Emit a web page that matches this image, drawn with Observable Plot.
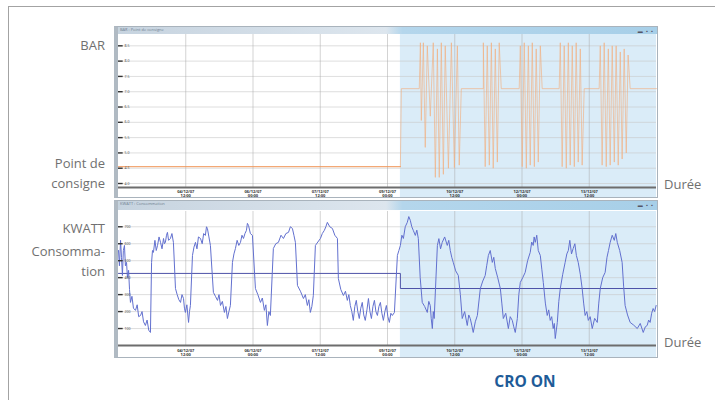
<!DOCTYPE html>
<html><head><meta charset="utf-8">
<script src="https://cdn.jsdelivr.net/npm/d3@7"></script>
<script src="https://cdn.jsdelivr.net/npm/@observablehq/plot@0.6"></script>
<style>
html,body{margin:0;padding:0;background:#fff;}
#wrap{position:relative;width:715px;height:400px;overflow:hidden;font-family:"Open Sans",sans-serif;}
.frame{position:absolute;left:8px;top:6px;width:720px;height:400px;border-top:1.5px solid #a3a3a3;border-left:1.5px solid #a3a3a3;}
.lbl{position:absolute;color:#707070;font-size:13px;line-height:20px;white-space:nowrap;}
.r{text-align:right;right:610px;}
.panel{position:absolute;left:114px;width:544px;}
.panel svg{position:absolute;left:0;top:0;}
.bar{position:absolute;left:0;top:0;width:544px;background:linear-gradient(to right,#c6d3df 0%,#dde6ee 50%,#b4d6ec 53%,#a7cfe8 100%);font-size:4px;color:#6f8090;line-height:8px;padding-left:6px;box-sizing:border-box;}
.btn{position:absolute;right:4px;top:1px;font-size:5px;color:#556;letter-spacing:1px;}
.border{position:absolute;left:0;top:0;box-sizing:border-box;border:1px solid #a9b3bc;border-left:4px solid #b0bac3;pointer-events:none;}
#cro{position:absolute;left:470px;width:110px;text-align:center;top:370px;font-size:15.5px;font-weight:bold;color:#1e5b98;}
</style></head>
<body><div id="wrap">
<div class="frame"></div>
<div class="lbl r" style="top:35px">BAR</div>
<div class="lbl r" style="top:153px">Point de<br>consigne</div>
<div class="lbl" style="left:664px;top:174px">Durée</div>
<div class="lbl r" style="top:218px">KWATT</div>
<div class="lbl r" style="top:241px">Consomma-<br>tion</div>
<div class="lbl" style="left:664px;top:332px">Durée</div>
<div id="cro">CRO ON</div>
<div class="panel" id="top" style="top:26px;height:172px"></div>
<div class="panel" id="bot" style="top:200px;height:158px"></div>
</div>
<script>
// ---- data ----
const croOn = 150.9;              // hours: CRO switched on
const endHour = 288;
const timeTicks = [36, 72, 108, 144, 180, 216, 252];
const timeLabels = ["04/12/07\n12:00", "06/12/07\n00:00", "07/12/07\n12:00", "09/12/07\n00:00", "10/12/07\n12:00", "12/12/07\n00:00", "13/12/07\n12:00"];
const barTicks = [4.0, 4.5, 5.0, 5.5, 6.0, 6.5, 7.0, 7.5, 8.0, 8.5];
const kwTicks = [100, 200, 300, 400, 500, 600, 700];
// point de consigne (BAR) avant CRO : [heure, bar]
const consigne = [[0,4.55],[150.9,4.55]];
// pression (BAR) après CRO : [heure, bar]
const pression = [
 [150.9,4.55],[151.4,7.1],[161,7.1],
 [161.6,8.6],[162.1,6.06],[163.2,8.6],[164.2,5.18],[165.3,8.5],[166.9,6.2],[168.5,8.6],[169.6,4.2],[170.7,8.4],[171.7,4.2],[172.8,8.6],[173.9,4.3],[174.9,8.5],[176.6,4.5],[178.2,8.6],[179.8,4.52],[181.4,8.5],[182.4,4.6],[183.5,7.1],
 [195.3,7.1],[195.3,8.6],[196.3,4.55],[197.4,8.5],[198.5,4.6],[199.6,8.6],[200.6,4.5],[201.7,8.4],[202.8,4.7],[203.8,8.6],[204.9,7.1],
 [214.5,7.1],[215.1,8.5],[216.1,4.55],[217.2,8.6],[218.3,4.5],[219.4,8.5],[220.4,4.6],[221.5,8.6],[222.6,4.55],[223.6,8.4],[224.7,4.7],[225.8,8.5],[226.8,7.1],
 [235.9,7.1],[236.5,8.6],[237.5,4.55],[238.6,8.5],[239.7,4.5],[240.8,8.6],[241.8,4.6],[242.9,8.5],[244,4.55],[245,8.6],[246.1,4.7],[247.2,8.4],[248.2,4.6],[249.3,7.1],
 [257.3,7.1],[257.9,8.5],[258.9,4.6],[260,8.6],[261.1,4.55],[262.2,8.4],[263.2,4.6],[264.3,8.5],[265.4,4.7],[266.4,8.5],[267.5,4.6],[268.6,8.3],[269.6,4.8],[270.7,8.4],[271.8,5.0],[272.8,8.2],[273.9,7.1],[288,7.1]
];
// consommation (KWATT) : [heure, kW]
const consommation = [
 [0,560],[0.5,470],[1.1,620],[1.6,520],[2.1,413],[2.6,560],[3.2,590],[3.7,470],[4.3,490],[4.8,400],[5.4,443],[5.9,330],[6.4,254],[7.2,290],[8,220],[9.1,207],[10,240],[10.8,170],[11.8,177],[12.6,200],[13.4,140],[14.4,118],[15.3,150],[16.2,90],[17.1,77],
 [17.7,490],[18.2,560],[18.7,549],[19.5,620],[20.2,560],[20.9,590],[21.7,640],[22.5,608],[23.3,570],[24.1,631],[24.6,600],[25.1,608],[25.7,650],[26.2,667],[26.8,620],[27.8,631],[28.6,660],[29.4,608],
 [30.5,336],[31.4,300],[32.3,270],[33.2,254],[34,300],[34.8,277],[35.3,220],[35.8,195],[36.6,240],[37.5,136],[38,200],[38.5,236],
 [39.6,531],[40.4,580],[41.2,608],[42,570],[42.8,640],[43.9,631],[44.8,600],[45.6,660],[46.5,649],[47.1,700],[47.6,690],[48.4,640],[49.2,590],
 [50.8,313],[51.9,290],[53,266],[53.8,300],[54.6,236],[55.6,260],[56.7,195],[57.5,230],[58.3,159],[59.1,200],[59.9,236],
 [61,490],[61.8,540],[62.6,572],[63.5,620],[64.4,590],[65.3,608],[66.1,650],[66.9,631],[67.7,660],[68.5,679],[69,720],[69.6,708],[70.6,660],[71.7,649],
 [73.3,336],[74.6,300],[76,254],[77,280],[78.1,207],[78.9,240],[79.7,118],[80.5,200],[81.3,177],
 [82.9,572],[84.2,600],[85.6,608],[87,650],[88.3,631],[89.6,660],[91,667],[92,700],[93.1,690],[93.9,650],[94.7,608],
 [95.8,354],[97.4,320],[99,277],[100,300],[101.1,236],[101.9,270],[102.7,195],[103.5,230],[104.3,295],
 [105.4,590],[106.7,610],[108.1,631],[109.1,660],[110.2,679],[111,700],[111.8,726],[113.1,700],[114.5,690],[115.8,650],[117.2,631],
 [117.7,395],[119,330],[120.4,295],[121.5,320],[122.5,266],[123.3,300],[124.1,236],[124.9,200],[125.7,148],[126.5,230],[127.3,266],[128.1,200],[128.9,159],[129.7,220],[130.5,254],[131.3,180],[132.1,148],[133,210],[133.8,277],[134.6,200],[135.4,159],[136.2,230],[137,266],[137.8,200],[138.6,177],[139.4,230],[140.2,254],[141,190],[141.8,148],[142.6,200],[143.4,236],[144.2,170],[145,136],[145.8,190],[146.6,177],[147.7,195],
 [149.3,531],[150.1,560],[150.9,590],[151.7,650],[152.5,631],[153.5,700],[154.6,726],[155.4,760],[156.2,738],[157,700],[157.8,679],[158.9,649],[159.7,680],[160.5,631],
 [161.5,400],[162.6,254],[163.9,230],[165.3,195],[166.1,260],[166.9,236],[167.4,160],[168,100],[168.5,200],[169,159],
 [170.7,590],[171.5,630],[172.4,570],[173.3,608],[174.6,640],[176,590],[176.8,620],[177.6,560],[178.4,520],[179.2,490],[180.5,440],[181.9,413],
 [183,300],[184,159],[185.3,200],[186.7,118],[187.5,180],[188.3,159],[189.1,120],[189.9,77],[191,140],[192.1,177],
 [193.7,336],[195,380],[196.3,413],[197.1,470],[198,531],[199,560],[200.1,490],[200.9,520],[201.7,454],[203,400],[204.4,336],
 [205.2,250],[206,159],[207.3,190],[208.7,100],[209.7,170],[210.8,148],[211.6,110],[212.4,77],[213.5,159],
 [214.3,300],[215.1,372],[216.4,400],[217.7,431],[219,500],[220.4,549],[221.2,610],[222,590],[222.5,640],[223.1,608],[223.9,650],[224.7,560],[225.8,531],[226.6,450],[227.4,372],
 [228.5,250],[229.5,177],[230.3,210],[231.1,148],[231.9,170],[232.7,100],[233.3,130],[233.8,41],[234.9,136],
 [235.7,260],[236.5,336],[237.8,420],[239.1,490],[240,540],[240.8,560],[241.6,620],[242.5,540],[243.4,572],[244.3,600],[245.1,531],[246.1,490],[247.2,420],[248.2,336],
 [249,250],[249.8,177],[250.7,200],[251.5,148],[252.5,170],[253.6,100],[254.9,160],[256.3,136],
 [257.1,250],[257.9,336],[259.2,400],[260.5,431],[261.5,520],[262.3,560],[263.2,608],[264.3,650],[265.4,620],[266.2,660],[267,608],[268.3,560],[269.6,490],
 [270.4,350],[271.2,236],[272.5,180],[273.9,136],[275.8,120],[277.7,100],[279.3,130],[280.9,77],[282,110],[283,118],[283.8,150],[284.6,136],[285.4,190],[286.2,218],[287,200],[287.8,236]
];
// moyenne de consommation avant / après CRO
const moyenne = [[0,425],[150.9,425],[150.9,336],[288,336]];

// ---- charts ----
const shade = [{start: croOn, end: endHour}];
function chrome(el, w, h, title) {
  const bar = document.createElement("div");
  bar.className = "bar"; bar.style.height = (title.h) + "px"; bar.textContent = title.t;
  const b = document.createElement("span"); b.className = "btn"; b.textContent = "▬ ▪ ▪"; bar.appendChild(b);
  el.appendChild(bar);
  const bd = document.createElement("div"); bd.className = "border";
  bd.style.width = w + "px"; bd.style.height = h + "px"; el.appendChild(bd);
}

const fmtT = (d) => timeLabels[timeTicks.indexOf(d)];
const topChart = Plot.plot({
  width: 544, height: 172,
  marginLeft: 4, marginRight: 2, marginTop: 8, marginBottom: 11,
  x: {domain: [0, endHour], axis: null},
  y: {domain: [3.87, 8.87], axis: null},
  style: {background: "#fff", overflow: "visible"},
  marks: [
    Plot.rect(shade, {x1: "start", x2: "end", fill: "#daecf8", insetBottom: -11}),
    Plot.gridY(barTicks, {stroke: "#c8c8c8", strokeOpacity: 0.6}),
    Plot.gridX(timeTicks, {stroke: "#a8a8a8", strokeOpacity: 0.5}),
    Plot.line(pression, {x: d => d[0], y: d => d[1], stroke: "#f2ad7c", strokeWidth: 0.9, strokeOpacity: 0.7}),
    Plot.line(consigne, {x: d => d[0], y: d => d[1], stroke: "#f09455", strokeWidth: 1}),
    Plot.ruleY(barTicks, {x1: 0, x2: 2.5, stroke: "#333", strokeWidth: 1.4}),
    Plot.text(barTicks, {x: 0, y: d => d, text: d => d.toFixed(1), dx: 6, textAnchor: "start", fontSize: 3.5, fill: "#555"}),
    Plot.ruleY([3.87], {stroke: "#6d6d6d", strokeWidth: 2}),
    Plot.axisX(timeTicks, {tickSize: 0, tickFormat: fmtT, fontSize: 4, fontWeight: "bold", fill: "#333", tickPadding: 2, lineHeight: 1.1})
  ]
});
const topEl = document.getElementById("top");
topEl.appendChild(topChart);
chrome(topEl, 544, 172, {h: 8, t: "BAR : Point de consigne"});

const botChart = Plot.plot({
  width: 544, height: 158,
  marginLeft: 4, marginRight: 2, marginTop: 11, marginBottom: 13,
  x: {domain: [0, endHour], axis: null},
  y: {domain: [0, 790], axis: null},
  style: {background: "#fff", overflow: "visible"},
  marks: [
    Plot.rect(shade, {x1: "start", x2: "end", fill: "#daecf8", insetBottom: -13}),
    Plot.gridY(kwTicks, {stroke: "#c8c8c8", strokeOpacity: 0.6}),
    Plot.gridX(timeTicks, {stroke: "#a8a8a8", strokeOpacity: 0.5}),
    Plot.line(moyenne, {x: d => d[0], y: d => d[1], stroke: "#4d52a8", strokeWidth: 1}),
    Plot.line(consommation, {x: d => d[0], y: d => d[1], stroke: "#6270cf", strokeWidth: 1}),
    Plot.ruleY(kwTicks, {x1: 0, x2: 2.5, stroke: "#333", strokeWidth: 1.4}),
    Plot.text(kwTicks, {x: 0, y: d => d, text: d => String(d), dx: 6, textAnchor: "start", fontSize: 3.5, fill: "#555"}),
    Plot.ruleY([0], {stroke: "#6d6d6d", strokeWidth: 2}),
    Plot.axisX(timeTicks, {tickSize: 0, tickFormat: fmtT, fontSize: 4, fontWeight: "bold", fill: "#333", tickPadding: 3, lineHeight: 1.1})
  ]
});
const botEl = document.getElementById("bot");
botEl.appendChild(botChart);
chrome(botEl, 544, 158, {h: 10, t: "KWATT : Consommation"});
</script>
</body></html>
